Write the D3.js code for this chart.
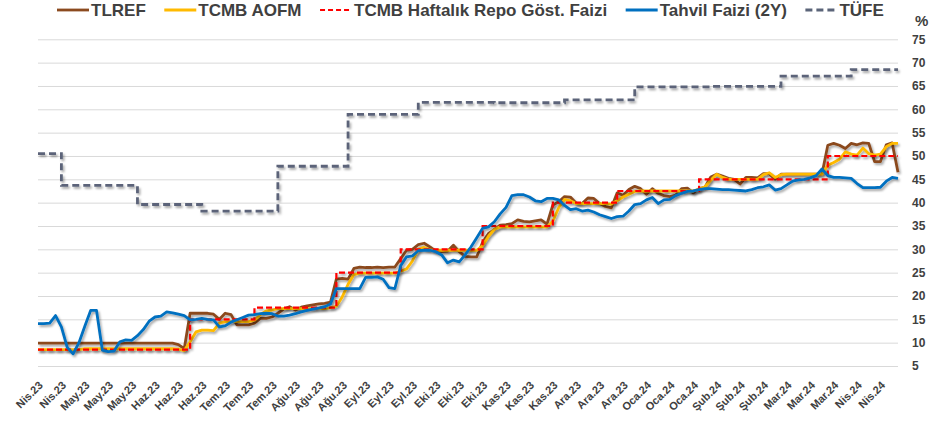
<!DOCTYPE html>
<html>
<head>
<meta charset="utf-8">
<script src="https://cdn.jsdelivr.net/npm/d3@7"></script>
<style>
  html, body { margin: 0; padding: 0; background: #fff; }
  svg { display: block; }
  text { font-family: "Liberation Sans", Arial, sans-serif; font-weight: bold; fill: #404040; }
</style>
</head>
<body>
<svg id="chart" width="931" height="426"></svg>
<script>
// Axis tick labels (one every four observations)
const xLabels = ["Nis.23","Nis.23","May.23","May.23","May.23","Haz.23","Haz.23","Haz.23",
  "Tem.23","Tem.23","Tem.23","Ağu.23","Ağu.23","Ağu.23","Eyl.23","Eyl.23","Eyl.23",
  "Eki.23","Eki.23","Eki.23","Kas.23","Kas.23","Kas.23","Ara.23","Ara.23","Ara.23",
  "Oca.24","Oca.24","Oca.24","Şub.24","Şub.24","Şub.24","Mar.24","Mar.24","Mar.24",
  "Nis.24","Nis.24"];
const yTicks = [5,10,15,20,25,30,35,40,45,50,55,60,65,70,75];

// TLREF (%)
const tlref = [
  9.9,9.9,9.9,9.9,9.9,9.9,9.9,9.9,9.9,9.9,9.9,9.9,9.9,9.9,9.9,9.9,9.9,9.9,9.9,9.9,9.9,9.9,9.9,9.9,
  9.6,8.7,16.3,16.3,16.3,16.3,16.1,15.0,16.3,16.0,13.8,13.8,13.8,14.2,15.2,15.2,15.5,16.3,
  17.2,17.7,17.0,17.6,17.9,18.1,18.3,18.4,18.7,23.6,23.8,23.6,25.9,26.2,26.1,26.1,26.2,26.1,
  26.2,26.2,28.0,29.8,30.0,31.0,31.3,30.5,29.6,29.5,29.6,30.9,29.5,28.5,28.4,28.4,31.5,33.4,
  34.2,35.2,35.3,35.5,36.3,36.0,35.9,36.1,36.3,35.4,39.5,40.2,41.3,41.2,39.9,39.8,41.0,40.9,
  39.8,39.2,38.9,42.1,41.6,42.8,43.5,43.0,41.8,43.0,42.0,41.5,41.3,41.6,43.0,43.1,42.1,43.0,
  43.3,45.5,46.1,45.7,45.2,45.0,44.0,45.4,45.4,45.3,46.2,46.2,45.0,46.1,46.1,46.1,46.1,46.1,
  46.1,46.1,46.1,52.3,52.7,52.3,51.6,52.7,52.4,52.8,52.7,48.8,48.8,52.4,52.8,46.5];

// TCMB AOFM (%)
const aofm = [
  8.5,8.5,8.5,8.5,8.5,8.5,8.5,8.5,8.7,8.7,8.7,8.7,8.7,8.7,8.7,8.7,8.7,8.7,8.7,8.7,8.7,8.7,8.7,8.7,
  8.6,8.3,10.2,12.3,12.7,12.7,12.6,14.2,14.5,14.5,14.5,14.5,14.5,14.8,16.0,16.8,17.0,
  17.3,17.3,17.3,17.3,17.3,17.3,17.3,17.3,17.3,17.5,17.8,19.8,22.5,24.6,
  24.9,24.9,24.9,24.9,24.9,24.9,24.9,25.3,25.8,27.5,30.0,30.4,29.9,
  29.8,29.8,29.8,29.8,29.8,29.8,29.8,29.8,30.8,32.8,34.3,
  34.8,34.8,34.8,34.8,34.8,34.8,34.8,34.8,34.8,36.0,38.9,40.7,40.4,
  39.8,39.8,39.8,39.8,39.8,39.8,39.7,40.4,41.2,41.8,42.4,
  42.5,42.5,42.5,42.5,42.5,42.5,42.5,42.5,42.5,42.5,42.9,43.4,44.8,46.1,45.4,
  45.0,45.0,45.0,45.0,45.0,45.0,46.0,46.4,45.4,46.0,46.1,46.1,46.1,46.1,46.1,46.1,46.1,
  48.0,48.6,49.3,50.9,50.4,50.2,51.7,50.5,50.2,50.4,52.0,52.7,52.7];

// Tahvil Faizi, 2 yıl (%)
const tahvil = [
  14.1,14.1,14.2,15.8,13.4,9.0,7.6,10.0,13.5,16.9,16.9,8.4,8.1,8.2,10.2,10.6,10.5,11.5,12.8,14.6,
  15.5,15.7,16.6,16.4,16.1,15.8,14.9,15.0,15.2,15.0,14.9,13.4,13.6,14.4,14.9,15.4,15.9,16.0,16.2,16.3,
  16.2,15.7,15.7,15.9,16.2,16.6,16.9,17.2,17.4,17.7,18.3,21.6,21.6,21.6,21.6,21.6,24.0,24.0,24.1,23.6,
  21.8,21.6,26.5,28.4,28.6,29.7,29.8,29.8,29.5,28.8,27.1,27.7,27.3,28.8,30.5,32.5,34.5,34.8,35.9,37.6,
  39.0,41.5,41.7,41.7,41.2,40.4,40.2,40.9,40.9,40.6,39.4,38.5,38.7,38.2,38.4,38.0,37.4,37.0,36.6,37.0,
  37.1,38.2,39.6,39.8,40.6,41.1,39.8,40.6,40.7,41.5,42.0,42.4,42.5,42.8,43.0,43.0,42.9,42.8,42.8,42.7,
  42.6,42.5,42.8,43.2,43.4,43.8,42.7,43.0,43.8,44.6,44.9,45.0,45.3,45.8,47.2,45.8,45.4,45.4,45.3,45.2,
  44.1,43.2,43.2,43.2,43.3,44.6,45.4,45.2];

// TCMB haftalık repo faizi: [gözlem sırası, oran] değişim noktaları
const repoSteps = [[0,8.5],[26,15],[37,17.5],[51,25],[62,30],[76,35],[88,40],[99,42.5],[113,45],[135,50],[147,50]];
// TÜFE yıllık (%): [gözlem sırası, oran] değişim noktaları
const tufeSteps = [[0,50.5],[4,43.7],[17,39.6],[28,38.2],[41,47.8],[53,58.9],[65,61.5],[78,61.4],[90,62.0],[102,64.8],[115,64.9],[127,67.1],[139,68.5],[147,68.5]];

const seriesNames = ["TLREF","TCMB AOFM","TCMB Haftalık Repo Göst. Faizi","Tahvil Faizi (2Y)","TÜFE"];
const seriesColors = ["#8B4A1F","#FFBA00","#FF0000","#0070C0","#5B6479"];

const svg = d3.select("#chart");
const plotLeft = 38, plotRight = 898, plotTop = 39.3, plotBottom = 366;

const x = d3.scaleLinear().domain([0, tlref.length - 1]).range([plotLeft, plotRight]);
const y = d3.scaleLinear().domain([5, 75]).range([plotBottom, plotTop]);

// drop shadow under the plotted lines
const defs = svg.append("defs");
const f = defs.append("filter").attr("id", "shadow")
  .attr("filterUnits", "userSpaceOnUse").attr("x", 0).attr("y", 0)
  .attr("width", 931).attr("height", 426);
f.append("feDropShadow").attr("dx", 1.5).attr("dy", 2).attr("stdDeviation", 1.3)
  .attr("flood-color", "#000").attr("flood-opacity", 0.35);

// horizontal gridlines + right-hand value axis
const yAxis = d3.axisRight(y).tickValues(yTicks).tickSize(plotRight - plotLeft).tickPadding(14);
const gy = svg.append("g").attr("transform", `translate(${plotLeft},0)`).call(yAxis);
gy.select(".domain").remove();
gy.selectAll(".tick line").attr("stroke", "#D9D9D9").attr("stroke-width", 1);
gy.selectAll(".tick text").attr("font-size", 12).attr("fill", "#404040")
  .style("font-family", "'Liberation Sans', Arial, sans-serif").style("font-weight", "bold");

svg.append("text").attr("x", 915).attr("y", 26).attr("font-size", 15).text("%");

// category labels along the bottom
const xAxis = d3.axisBottom(x).tickValues(xLabels.map((d, i) => i * 4))
  .tickFormat((d) => xLabels[d / 4]).tickSize(0);
const gx = svg.append("g").attr("transform", `translate(0,${plotBottom})`).call(xAxis);
gx.select(".domain").remove();
gx.selectAll(".tick text")
  .attr("font-size", 11).attr("fill", "#404040")
  .style("font-family", "'Liberation Sans', Arial, sans-serif").style("font-weight", "bold")
  .attr("text-anchor", "end").attr("dy", 0).attr("y", 0)
  .attr("transform", "translate(5,20) rotate(-45)");

// lines
const smooth = d3.line().x((d, i) => x(i)).y((d) => y(d));
const stepped = d3.line().x((d) => x(d[0])).y((d) => y(d[1])).curve(d3.curveStepAfter);

const plot = svg.append("g");
plot.append("path").datum(tlref).attr("d", smooth)
  .attr("fill", "none").attr("stroke", seriesColors[0]).attr("stroke-width", 2.8)
  .attr("stroke-linejoin", "round").attr("filter", "url(#shadow)");
plot.append("path").datum(aofm).attr("d", smooth)
  .attr("fill", "none").attr("stroke", seriesColors[1]).attr("stroke-width", 2.8)
  .attr("stroke-linejoin", "round").attr("filter", "url(#shadow)");
plot.append("path").datum(repoSteps).attr("d", stepped)
  .attr("fill", "none").attr("stroke", seriesColors[2]).attr("stroke-width", 2.2)
  .attr("stroke-dasharray", "6,3").attr("filter", "url(#shadow)");
plot.append("path").datum(tahvil).attr("d", smooth)
  .attr("fill", "none").attr("stroke", seriesColors[3]).attr("stroke-width", 2.8)
  .attr("stroke-linejoin", "round").attr("filter", "url(#shadow)");
plot.append("path").datum(tufeSteps).attr("d", stepped)
  .attr("fill", "none").attr("stroke", seriesColors[4]).attr("stroke-width", 2.8)
  .attr("stroke-dasharray", "7,4").attr("filter", "url(#shadow)");

// legend
const dashes = [null, null, "5,3", null, "7,4"];
const legend = svg.append("g").attr("transform", "translate(57,0)");
let lx = 0;
seriesNames.forEach((name, i) => {
  const g = legend.append("g").attr("transform", `translate(${lx},0)`);
  g.append("line").attr("x1", 0).attr("x2", 32).attr("y1", 10).attr("y2", 10)
    .attr("stroke", seriesColors[i]).attr("stroke-width", i === 2 ? 2.2 : 2.8)
    .attr("stroke-dasharray", dashes[i]);
  const t = g.append("text").attr("x", 34).attr("y", 15.5).attr("font-size", 17).text(name);
  lx += 34 + t.node().getComputedTextLength() + 18.5;
});
</script>
</body>
</html>
